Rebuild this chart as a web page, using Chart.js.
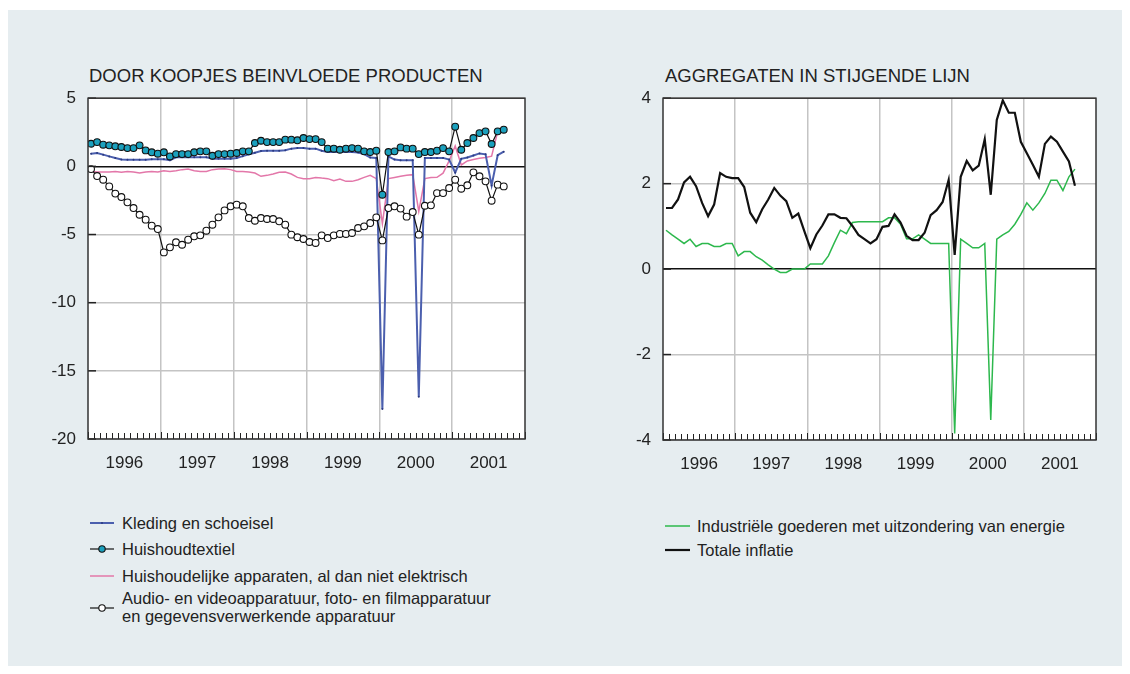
<!doctype html>
<html>
<head>
<meta charset="utf-8">
<title>Koopjes en aggregaten</title>
<script src="https://cdn.jsdelivr.net/npm/chart.js@4.4.1/dist/chart.umd.min.js"></script>
<style>
    body { margin: 0; background: #fff; font-family: "Liberation Sans", Arial, sans-serif; color: #222; }
    #panel { position: absolute; left: 8px; top: 10px; width: 1114px; height: 656px; background: #e6edf0; }
    .title { position: absolute; font-size: 18.5px; line-height: 22px; white-space: nowrap; }
    .leg { position: absolute; font-size: 16.5px; line-height: 18px; white-space: nowrap; }
    .leg svg { position: absolute; left: 0; }
    .leg span { position: absolute; left: 32px; top: 0; }
    #boxL { position: absolute; left: 30px; top: 76px; }
    #boxR { position: absolute; left: 600px; top: 76px; }
</style>
</head>
<body>
<div id="panel"></div>

<div class="title" style="left:89px;top:65px">DOOR KOOPJES BEINVLOEDE PRODUCTEN</div>
<div class="title" style="left:665px;top:65px">AGGREGATEN IN STIJGENDE LIJN</div>

<div id="boxL"><canvas id="canvasL" width="509" height="404"></canvas></div>
<div id="boxR"><canvas id="canvasR" width="510" height="405"></canvas></div>

<!-- legenda links -->
<div class="leg" style="left:90px;top:514px">
    <svg width="26" height="18"><line x1="0" y1="9" x2="24" y2="9" stroke="#4b5fae" stroke-width="2"/><circle cx="12" cy="9" r="1" fill="#2b3a80"/></svg>
    <span>Kleding en schoeisel</span>
</div>
<div class="leg" style="left:90px;top:540px">
    <svg width="26" height="18"><line x1="0" y1="9" x2="24" y2="9" stroke="#111" stroke-width="1.2"/><circle cx="12" cy="9" r="3.2" fill="#1ba0bd" stroke="#111" stroke-width="1.1"/></svg>
    <span>Huishoudtextiel</span>
</div>
<div class="leg" style="left:90px;top:567px">
    <svg width="26" height="18"><line x1="0" y1="9" x2="24" y2="9" stroke="#e377a9" stroke-width="1.5"/></svg>
    <span>Huishoudelijke apparaten, al dan niet elektrisch</span>
</div>
<div class="leg" style="left:90px;top:589px">
    <svg width="26" height="36"><line x1="0" y1="19" x2="24" y2="19" stroke="#111" stroke-width="1.2"/><circle cx="12" cy="19" r="3.2" fill="#fff" stroke="#111" stroke-width="1.1"/></svg>
    <span>Audio- en videoapparatuur, foto- en filmapparatuur<br>en gegevensverwerkende apparatuur</span>
</div>

<!-- legenda rechts -->
<div class="leg" style="left:665px;top:517px">
    <svg width="26" height="18"><line x1="0" y1="9" x2="25" y2="9" stroke="#2db84d" stroke-width="1.5"/></svg>
    <span>Industriële goederen met uitzondering van energie</span>
</div>
<div class="leg" style="left:665px;top:541px">
    <svg width="26" height="18"><line x1="0" y1="9" x2="25" y2="9" stroke="#111" stroke-width="2.2"/></svg>
    <span>Totale inflatie</span>
</div>

<script>
    // jaren op de x-as, maandreeksen jan 1996 - sep 2001
    var years = ['1996', '1997', '1998', '1999', '2000', '2001'];

    var kleding = [0.93, 0.98, 0.86, 0.73, 0.61, 0.51, 0.49, 0.49, 0.49, 0.49, 0.52, 0.52,
        0.52, 0.45, 0.66, 0.66, 0.66, 0.66, 0.66, 0.66, 0.56, 0.55, 0.55, 0.55,
        0.62, 0.75, 0.88, 1.0, 1.12, 1.15, 1.15, 1.15, 1.18, 1.3, 1.34, 1.34,
        1.3, 1.3, 1.15, 1.05, 1.05, 1.05, 1.05, 1.05, 1.02, 0.9, 0.65, 0.62,
        -17.8, 0.73, 0.5, 0.44, 0.44, 0.44, -16.9, 0.62, 0.62, 0.62, 0.62, 0.5,
        -0.45, 0.55, 0.65, 0.8, 0.95, 0.88, -1.4, 0.82, 1.08];

    var textiel = [1.66, 1.78, 1.59, 1.54, 1.47, 1.42, 1.34, 1.34, 1.54, 1.17, 1.03, 0.93,
        1.03, 0.73, 0.90, 0.90, 0.90, 1.03, 1.10, 1.10, 0.78, 0.90, 0.90, 0.93,
        0.98, 1.10, 1.10, 1.71, 1.88, 1.78, 1.78, 1.78, 1.96, 1.96, 1.91, 2.08,
        2.0, 2.0, 1.78, 1.30, 1.30, 1.22, 1.30, 1.34, 1.30, 1.10, 1.05, 1.15,
        -2.08, 1.05, 1.10, 1.39, 1.30, 1.30, 0.90, 1.05, 1.05, 1.15, 1.34, 1.10,
        2.91, 1.22, 1.71, 2.08, 2.44, 2.57, 1.64, 2.57, 2.69];

    var apparaten = [-0.37, -0.42, -0.42, -0.42, -0.37, -0.44, -0.37, -0.42, -0.49, -0.42, -0.37, -0.42,
        -0.32, -0.37, -0.32, -0.24, -0.2, -0.32, -0.37, -0.37, -0.24, -0.2, -0.17, -0.24,
        -0.37, -0.37, -0.42, -0.49, -0.73, -0.66, -0.56, -0.44, -0.42, -0.56, -0.81, -0.9,
        -0.9, -0.81, -0.86, -0.9, -1.05, -0.93, -1.1, -1.1, -0.98, -0.81, -0.66, -0.9,
        -4.2, -0.9, -0.81, -0.73, -0.66, -0.61, -3.3, -0.9, -0.81, -0.8, -0.5, 0.4,
        1.5, 0.1, 0.4, 0.5, 0.6, 0.65, 0.75, 2.55, 2.7];

    var audio = [-0.2, -0.71, -0.98, -1.47, -2.0, -2.25, -2.64, -3.06, -3.55, -3.91, -4.35, -4.6,
        -6.31, -5.94, -5.57, -5.75, -5.38, -5.13, -5.06, -4.72, -4.28, -3.74, -3.23, -2.93,
        -2.81, -2.93, -3.79, -3.99, -3.79, -3.86, -3.86, -4.03, -4.28, -5.01, -5.2, -5.33,
        -5.55, -5.62, -5.06, -5.26, -5.06, -4.96, -4.96, -4.89, -4.52, -4.40, -4.16, -3.74,
        -5.43, -3.06, -2.93, -3.1, -3.69, -3.35, -5.01, -2.89, -2.86, -1.96, -1.96, -1.59,
        -0.98, -1.64, -1.39, -0.44, -0.73, -1.10, -2.52, -1.34, -1.47];

    var industrie = [0.91, 0.80, 0.70, 0.60, 0.70, 0.53, 0.60, 0.60, 0.53, 0.53, 0.60, 0.60,
        0.31, 0.41, 0.41, 0.29, 0.21, 0.10, 0.0, -0.08, -0.08, 0.0, 0.0, 0.0,
        0.12, 0.12, 0.12, 0.31, 0.62, 0.91, 0.83, 1.09, 1.11, 1.11, 1.11, 1.11,
        1.11, 1.20, 1.20, 1.05, 0.71, 0.71, 0.80, 0.70, 0.60, 0.60, 0.60, 0.60,
        -3.85, 0.70, 0.60, 0.50, 0.50, 0.60, -3.53, 0.70, 0.80, 0.88, 1.05, 1.28,
        1.55, 1.38, 1.55, 1.77, 2.08, 2.08, 1.84, 2.16, 2.34];

    var totaal = [1.43, 1.43, 1.63, 2.03, 2.16, 1.94, 1.55, 1.24, 1.51, 2.25, 2.16, 2.13,
        2.13, 1.92, 1.32, 1.10, 1.40, 1.63, 1.90, 1.72, 1.59, 1.20, 1.30, 0.89,
        0.49, 0.81, 1.02, 1.28, 1.28, 1.20, 1.19, 1.01, 0.80, 0.70, 0.60, 0.70,
        0.99, 1.01, 1.28, 1.09, 0.78, 0.68, 0.68, 0.85, 1.26, 1.38, 1.57, 2.09,
        0.33, 2.16, 2.53, 2.31, 2.42, 3.04, 1.74, 3.49, 3.95, 3.66, 3.66, 2.98,
        2.71, 2.44, 2.16, 2.93, 3.10, 2.98, 2.75, 2.52, 1.95];

    var tickFont = { family: 'Liberation Sans', size: 17 };

    // waarde i hoort bij het midden van maand i
    function toPoints(arr) {
        return arr.map(function (v, i) { return { x: i + 0.5, y: v }; });
    }

    // witte plotachtergrond, kader, maandstreepjes en y-streepjes binnen het kader
    var framePlugin = {
        id: 'frame',
        beforeDraw: function (chart) {
            var a = chart.chartArea, c = chart.ctx;
            c.save();
            c.fillStyle = '#fff';
            c.fillRect(a.left, a.top, a.right - a.left, a.bottom - a.top);
            c.restore();
        },
        afterDraw: function (chart) {
            var a = chart.chartArea, c = chart.ctx;
            var xs = chart.scales.x, ys = chart.scales.y;
            c.save();
            c.strokeStyle = '#222';
            c.lineWidth = 1;
            for (var m = 0; m <= 72; m++) {
                var px = Math.round(xs.getPixelForValue(m)) + 0.5;
                c.beginPath();
                c.moveTo(px, a.bottom);
                c.lineTo(px, a.bottom - (m % 12 === 0 ? 7 : 6));
                c.stroke();
            }
            c.lineWidth = 1.5;
            ys.ticks.forEach(function (t) {
                var py = ys.getPixelForValue(t.value);
                c.beginPath();
                c.moveTo(a.left, py);
                c.lineTo(a.left + 8, py);
                c.stroke();
            });
            c.strokeStyle = '#333';
            c.lineWidth = 1.5;
            c.strokeRect(a.left, a.top, a.right - a.left, a.bottom - a.top);
            c.restore();
        }
    };

    function makeScales(ymin, ymax, ystep, ywidth) {
        return {
            x: {
                type: 'linear', min: 0, max: 72,
                border: { display: false },
                grid: {
                    drawTicks: false,
                    lineWidth: 1.5,
                    color: function (ctx) {
                        var v = ctx.tick ? ctx.tick.value : 0;
                        return (v % 12 === 0 && v > 0 && v < 72) ? '#c4c4c4' : 'rgba(0,0,0,0)';
                    }
                },
                ticks: {
                    stepSize: 6, autoSkip: false, maxTicksLimit: 100, maxRotation: 0,
                    padding: 14, color: '#222', font: tickFont,
                    callback: function (v) { return v % 12 === 6 ? years[(v - 6) / 12] : ''; }
                },
                afterFit: function (s) { s.height = 41; }
            },
            y: {
                min: ymin, max: ymax,
                border: { display: false },
                grid: {
                    drawTicks: false,
                    lineWidth: 1.5,
                    color: function (ctx) { return ctx.tick && ctx.tick.value === 0 ? '#111' : '#c4c4c4'; }
                },
                ticks: { stepSize: ystep, padding: 12, color: '#222', font: tickFont },
                afterFit: function (s) { s.width = ywidth; }
            }
        };
    }

    var baseOpts = function (ymin, ymax, ystep, ywidth, pad) {
        return {
            responsive: false,
            animation: false,
            layout: { padding: pad },
            plugins: { legend: { display: false }, tooltip: { enabled: false } },
            elements: { line: { tension: 0 } },
            scales: makeScales(ymin, ymax, ystep, ywidth)
        };
    };

    new Chart(document.getElementById('canvasL').getContext('2d'), {
        type: 'line',
        data: {
            datasets: [{
                label: 'Audio- en videoapparatuur, foto- en filmapparatuur en gegevensverwerkende apparatuur',
                data: toPoints(audio), order: 1,
                borderColor: '#111', borderWidth: 1.2,
                pointRadius: 3.4, pointBorderWidth: 1.1, pointBorderColor: '#111', pointBackgroundColor: '#fff'
            }, {
                label: 'Huishoudtextiel',
                data: toPoints(textiel), order: 2,
                borderColor: '#111', borderWidth: 1.2,
                pointRadius: 3.4, pointBorderWidth: 1.1, pointBorderColor: '#111', pointBackgroundColor: '#1ba0bd'
            }, {
                label: 'Kleding en schoeisel',
                data: toPoints(kleding), order: 3,
                borderColor: '#4b5fae', borderWidth: 2,
                pointRadius: 1, pointBorderWidth: 0, pointBackgroundColor: '#2b3a80'
            }, {
                label: 'Huishoudelijke apparaten, al dan niet elektrisch',
                data: toPoints(apparaten), order: 4,
                borderColor: '#e377a9', borderWidth: 1.5, pointRadius: 0
            }]
        },
        options: baseOpts(-20, 5, 5, 58, { top: 7, right: 6 }),
        plugins: [framePlugin]
    });

    new Chart(document.getElementById('canvasR').getContext('2d'), {
        type: 'line',
        data: {
            datasets: [{
                label: 'Totale inflatie',
                data: toPoints(totaal), order: 1,
                borderColor: '#111', borderWidth: 2.2, pointRadius: 0
            }, {
                label: 'Industriële goederen met uitzondering van energie',
                data: toPoints(industrie), order: 2,
                borderColor: '#2db84d', borderWidth: 1.5, pointRadius: 0
            }]
        },
        options: baseOpts(-4, 4, 2, 63, { top: 8, right: 4 }),
        plugins: [framePlugin]
    });
</script>
</body>
</html>
